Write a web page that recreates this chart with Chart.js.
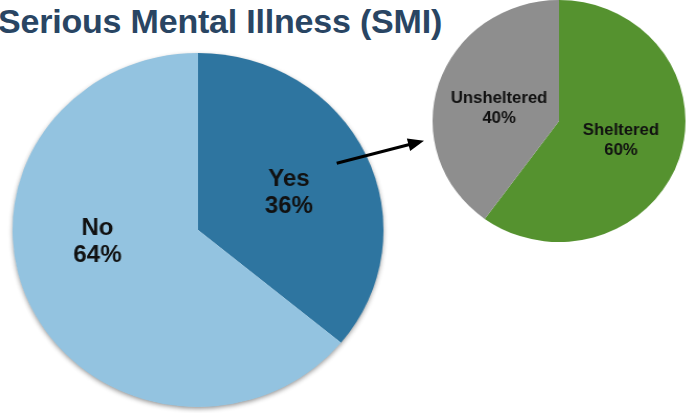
<!DOCTYPE html>
<html>
<head>
<meta charset="utf-8">
<script src="https://cdn.jsdelivr.net/npm/chart.js@4/dist/chart.umd.min.js"></script>
<style>
  html, body { margin: 0; padding: 0; background: #fff; }
  body { width: 686px; height: 413px; position: relative; overflow: hidden; }
  #title {
    position: absolute; left: -2px; top: 2px;
    font-family: "Liberation Sans", Arial, sans-serif; font-weight: bold;
    font-size: 34px; color: #294563; white-space: nowrap; letter-spacing: -0.2px;
  }
  .wrap { position: absolute; transform-origin: 50% 50%; }
  #bigWrap { left: 12.5px; top: 44.7px; width: 370px; height: 370px; transform: scaleX(1.048); }
  #smallWrap { left: 429.5px; top: -8px; width: 258px; height: 258px; transform: scaleX(1.045); }
  #arrow { position: absolute; left: 0; top: 0; }
</style>
</head>
<body>
<div id="title">Serious Mental Illness (SMI)</div>
<div class="wrap" id="bigWrap"><canvas id="big"></canvas></div>
<div class="wrap" id="smallWrap"><canvas id="small"></canvas></div>
<svg id="arrow" width="686" height="413"></svg>
<script>
// ---- data ----
const smiCategories = ['Yes', 'No'];
const smiValues = [36, 64];
const shelterCategories = ['Sheltered', 'Unsheltered'];
const shelterValues = [60, 40];

// ---- plugins ----
const shadowPlugin = {
  id: 'pieShadow',
  beforeDatasetsDraw(chart, args, opts) {
    if (!opts || !opts.enabled) return;
    const arc = chart.getDatasetMeta(0).data[0];
    const ctx = chart.ctx;
    ctx.save();
    ctx.shadowColor = opts.color;
    ctx.shadowBlur = opts.blur;
    ctx.shadowOffsetX = 0;
    ctx.shadowOffsetY = opts.offsetY;
    ctx.beginPath();
    ctx.arc(arc.x, arc.y, arc.outerRadius - 0.5, 0, Math.PI * 2);
    ctx.fillStyle = '#ffffff';
    ctx.fill();
    ctx.restore();
  }
};

const sliceLabels = {
  id: 'sliceLabels',
  afterDraw(chart, args, opts) {
    const meta = chart.getDatasetMeta(0);
    const ds = chart.data.datasets[0];
    const ctx = chart.ctx;
    ctx.save();
    ctx.fillStyle = opts.color;
    ctx.font = 'bold ' + opts.size + 'px "Liberation Sans", Arial, sans-serif';
    ctx.textAlign = 'center';
    ctx.textBaseline = 'middle';
    meta.data.forEach((arc, i) => {
      const r = arc.outerRadius;
      const off = opts.offsets[i];
      const cx = arc.x + off[0] * r;
      const cy = arc.y + off[1] * r;
      const lines = [chart.data.labels[i], ds.data[i] + '%'];
      const lh = opts.lineHeight;
      lines.forEach((t, k) => {
        ctx.fillText(t, cx, cy + (k - (lines.length - 1) / 2) * lh);
      });
    });
    ctx.restore();
  }
};

function makePie(id, labels, values, colors, radius, labelOpts, shadow) {
  return new Chart(document.getElementById(id), {
    type: 'pie',
    data: {
      labels: labels,
      datasets: [{
        data: values,
        backgroundColor: colors,
        borderWidth: 0,
        hoverOffset: 0,
        offset: 0
      }]
    },
    options: {
      responsive: true,
      maintainAspectRatio: false,
      animation: false,
      events: [],
      radius: radius,
      layout: { padding: 0 },
      plugins: {
        legend: { display: false },
        tooltip: { enabled: false },
        title: { display: false },
        sliceLabels: labelOpts,
        pieShadow: shadow
      }
    },
    plugins: [shadowPlugin, sliceLabels]
  });
}

makePie('big', smiCategories, smiValues, ['#2E75A0', '#93C3E0'], 177,
  { color: '#111111', size: 23, lineHeight: 26.5, offsets: [[0.490, -0.207], [-0.542, 0.069]] },
  { enabled: true, color: 'rgba(0,0,0,0.45)', blur: 5, offsetY: 2 });

makePie('small', shelterCategories, shelterValues, ['#55922F', '#8E8E8E'], 121,
  { color: '#111111', size: 16, lineHeight: 19.5, offsets: [[0.490, 0.163], [-0.474, -0.101]] },
  { enabled: false });

// ---- arrow annotation ----
(function () {
  const tail = [336.7, 163.3], tip = [424, 140.7];
  const dx = tip[0] - tail[0], dy = tip[1] - tail[1];
  const len = Math.hypot(dx, dy);
  const ux = dx / len, uy = dy / len, nx = -uy, ny = ux;
  const hl = 16, hw = 6.5;
  const bx = tip[0] - hl * ux, by = tip[1] - hl * uy;
  const svg = document.getElementById('arrow');
  const ns = 'http://www.w3.org/2000/svg';
  const line = document.createElementNS(ns, 'line');
  line.setAttribute('x1', tail[0]); line.setAttribute('y1', tail[1]);
  line.setAttribute('x2', bx + 2 * ux); line.setAttribute('y2', by + 2 * uy);
  line.setAttribute('stroke', '#000'); line.setAttribute('stroke-width', '3');
  svg.appendChild(line);
  const head = document.createElementNS(ns, 'polygon');
  head.setAttribute('points',
    tip[0] + ',' + tip[1] + ' ' +
    (bx + hw * nx) + ',' + (by + hw * ny) + ' ' +
    (bx - hw * nx) + ',' + (by - hw * ny));
  head.setAttribute('fill', '#000');
  svg.appendChild(head);
})();
</script>
</body>
</html>
